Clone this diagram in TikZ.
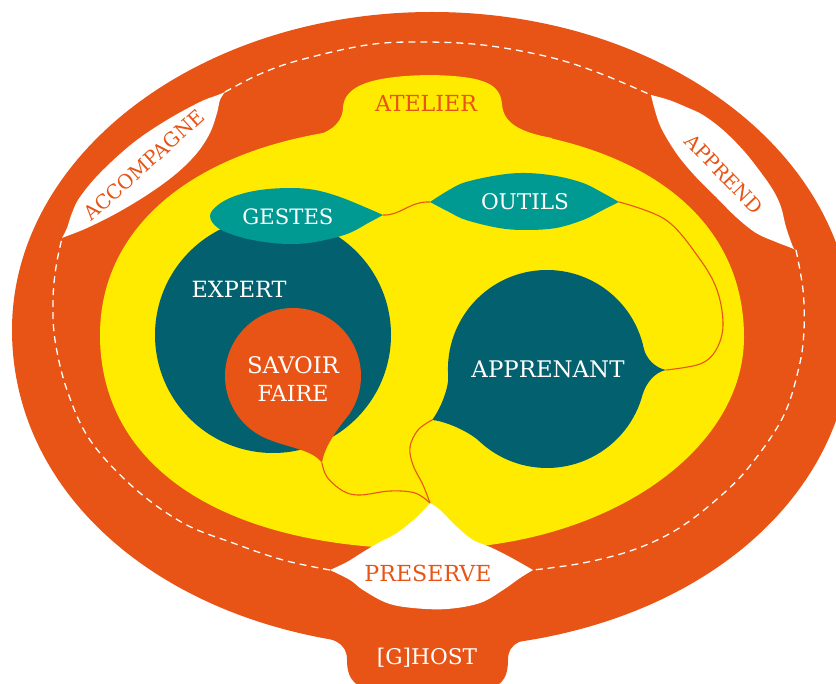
\documentclass[tikz,border=0pt]{standalone}
\usepackage{fontspec}
\usepackage{graphicx}
\newfontfamily\lblfont{DejaVu Serif}
\definecolor{orangec}{HTML}{E85416}
\definecolor{yellowc}{HTML}{FFEB00}
\definecolor{darkteal}{HTML}{03606F}
\definecolor{tealc}{HTML}{019A92}
\newcommand{\fitt}[2]{\resizebox{#1pt}{!}{#2}}
\begin{document}
\begin{tikzpicture}[x=1pt,y=-1pt,
  lbl/.style={font=\lblfont, inner sep=0pt},
  whitelbl/.style={lbl, text=white},
  orangelbl/.style={lbl, text=orangec},
  dashline/.style={draw=white, line width=1.3pt, dash pattern=on 7pt off 5pt},
  link/.style={draw=orangec, line width=1.1pt}]
\useasboundingbox (0,0) rectangle (836,684);
\fill[white] (0,0) rectangle (836,684);

% outer ring (host)
\fill[orangec] (12,330) .. controls (12,154.4) and (200,12) .. (432,12)
  .. controls (664,12) and (852,154.4) .. (852,330)
  .. controls (852,511.3) and (671.4,648) .. (432,648)
  .. controls (192.6,648) and (12,511.3) .. cycle;
\fill[orangec] (305,625) -- (305,634) .. controls (335,638) and (347,643) .. (347,660)
  .. controls (347,680) and (356,690) .. (380,690) -- (476,690)
  .. controls (500,690) and (508,680) .. (508,660)
  .. controls (508,643) and (520,638) .. (559,634) -- (559,625) -- cycle;

% dashed path
\draw[dashline] plot[smooth, tension=0.6] coordinates {(225,92) (260,74) (300,60) (367,45) (420,42) (483,45) (549,57) (599,73) (651,95)};
\draw[dashline] plot[smooth, tension=0.6] coordinates {(796,250) (803,290) (804,330) (799,367) (783,417) (749,467) (716,500) (676,530) (633,550) (583,563) (533,570)};
\draw[dashline] plot[smooth, tension=0.6] coordinates {(330,570) (283,560) (233,543) (183,523) (133,487) (90,440) (67,390) (55,340) (53,300) (56,267) (62,238)};

% atelier (yellow)
\fill[yellowc] (100,335) .. controls (100,207.8) and (228.8,125) .. (422,125)
  .. controls (621.6,125) and (744,205.6) .. (744,337)
  .. controls (744,453.6) and (601.8,549) .. (428,549)
  .. controls (224.6,549) and (100,467.7) .. cycle;
\fill[yellowc] (295,160) -- (295,140) .. controls (326,136) and (342,126) .. (343,108)
  .. controls (344,86) and (370,76) .. (430,75)
  .. controls (485,76) and (500,84) .. (502,104)
  .. controls (503,122) and (518,132) .. (552,138) -- (552,160) -- cycle;

% white blobs
\fill[white] plot[smooth, tension=0.6] coordinates {(62,238) (67,228) (72,213) (80,197) (100,173) (133,143) (167,120) (200,102) (218,95) (225,92)}
  -- plot[smooth, tension=0.6] coordinates {(225,92) (220,100) (217,113) (210,133) (197,153) (177,173) (150,193) (117,213) (87,228) (67,236) (62,238)} -- cycle;
\fill[white] plot[smooth, tension=0.6] coordinates {(651,95) (669,100) (686,107) (703,115) (723,130) (743,150) (759,170) (773,190) (781,207) (786,227) (793,247) (796,250)}
  -- plot[smooth, tension=0.6] coordinates {(796,250) (789,247) (776,242) (756,233) (736,217) (716,197) (696,177) (679,157) (666,137) (659,123) (654,107) (651,95)} -- cycle;

% expert
\fill[darkteal] (273,335) circle[radius=118];
% savoir faire
\coordinate (sT) at (322,463);
\fill[orangec] (sT) .. controls (324,447) and (338,428) .. (348.7,415)
  arc[start angle=35, end angle=-250, radius=68]
  .. controls (290,448) and (313,450) .. (sT);
% gestes
\coordinate (gT) at (383,215);
\fill[tealc] plot[smooth, tension=0.6] coordinates {(gT) (367,208) (340,197) (315,190) (290,188) (260,190) (235,196) (218,205) (210,216) (218,228) (240,237) (265,242) (290,244) (315,242) (347,234) (370,222) (gT)};
% apprenant
\coordinate (aR) at (666,370);
\coordinate (aL) at (432,420);
\fill[darkteal] (aR) .. controls (655,372) and (646,383) .. (642.6,394.6)
  arc[start angle=15, end angle=133, radius=99]
  .. controls (468.5,431.2) and (445,421) .. (aL)
  .. controls (440,410) and (449,388) .. (448.2,375.9)
  arc[start angle=176, end angle=348, radius=99]
  .. controls (645.9,358.2) and (655,368) .. (aR) -- cycle;
% outils
\coordinate (oL) at (430,202);
\coordinate (oR) at (619,202);
\fill[tealc] plot[smooth, tension=0.6] coordinates {(oL) (449,190) (466,182) (499,175) (526,173) (556,176) (583,183) (603,193) (oR)}
  -- plot[smooth, tension=0.6] coordinates {(oR) (603,210) (583,220) (556,228) (526,230) (499,228) (466,220) (449,212) (oL)} -- cycle;

% preserve blob
\coordinate (pT) at (430,503);
\fill[white] plot[smooth, tension=0.6] coordinates {(pT) (417,517) (397,533) (380,542) (363,552) (347,562) (330,570)}
  -- plot[smooth, tension=0.6] coordinates {(330,570) (350,580) (363,590) (387,603) (413,608) (447,609) (480,603) (503,590) (520,578) (533,570)}
  -- plot[smooth, tension=0.6] coordinates {(533,570) (510,557) (490,547) (473,540) (457,527) (440,510) (pT)} -- cycle;

% connectors
\draw[link] (gT) .. controls (400,216) and (410,201) .. (oL);
\draw[link] plot[smooth, tension=0.6] coordinates {(oR) (666,220) (699,258) (717,290) (723,325) (716,350) (700,364) (aR)};
\draw[link] plot[smooth, tension=0.6] coordinates {(sT) (327,477) (343,491) (360,495) (390,491) (415,493) (pT)};
\draw[link] plot[smooth, tension=0.6] coordinates {(aL) (418,430) (410,447) (413,465) (423,485) (pT)};

% labels
\node[orangelbl] (atelier) at (426,103) {\fitt{102}{ATELIER}};
\node[orangelbl, rotate=42] (accompagne) at (144,165) {\fitt{154}{ACCOMPAGNE}};
\node[orangelbl, rotate=-46] (apprend) at (724,174) {\fitt{102}{APPREND}};
\node[whitelbl] (gestes) at (288,217) {\fitt{91}{GESTES}};
\node[whitelbl] (outils) at (525,202) {\fitt{88}{OUTILS}};
\node[whitelbl] (expert) at (239,289) {\fitt{95}{EXPERT}};
\node[whitelbl] (savoir) at (293,365) {\fitt{92}{SAVOIR}};
\node[whitelbl] (faire) at (293,393) {\fitt{71}{FAIRE}};
\node[whitelbl] (apprenant) at (548,369) {\fitt{153}{APPRENANT}};
\node[orangelbl] (preserve) at (428,573) {\fitt{127}{PRESERVE}};
\node[whitelbl] (ghost) at (427,658) {\fitt{100}{[G]HOST}};
\end{tikzpicture}
\end{document}
